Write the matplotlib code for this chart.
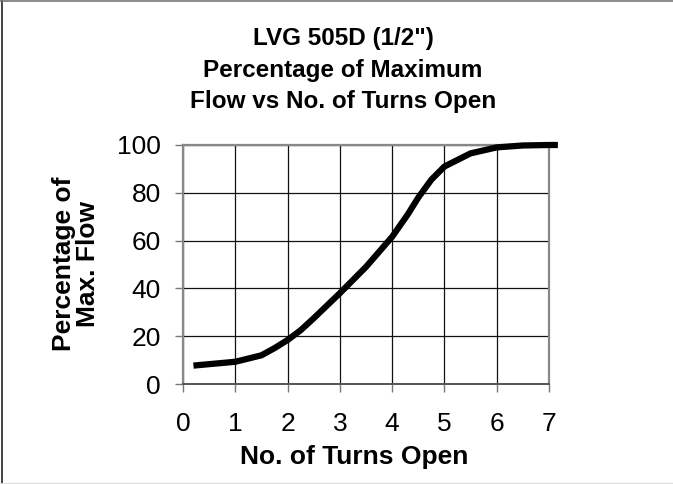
import matplotlib
matplotlib.use("Agg")
from matplotlib import pyplot as plt
from matplotlib.lines import Line2D

# values
turns = [0.2, 0.5, 1.0, 1.5, 1.75, 2.0, 2.25, 2.5, 3.0, 3.5, 4.0, 4.3, 4.5, 4.75,
         5.0, 5.5, 6.0, 6.5, 7.0, 7.17]
flow = [7.7, 8.3, 9.3, 12.0, 15.0, 18.4, 22.5, 27.5, 38.0, 49.0, 61.6, 71.0, 78.0, 85.5,
        91.0, 96.5, 99.0, 99.8, 100.0, 100.0]

x_ticks = [0, 1, 2, 3, 4, 5, 6, 7]
y_ticks = [0, 20, 40, 60, 80, 100]

title_lines = ['LVG 505D (1/2")', "Percentage of Maximum", "Flow vs No. of Turns Open"]
x_label = "No. of Turns Open"
y_label = "Percentage of\nMax. Flow"

plt.rcParams["font.family"] = ["Liberation Sans", "DejaVu Sans"]

W, H = 673, 484
fig = plt.figure(figsize=(W / 100, H / 100), dpi=100)
ax = fig.add_axes([183 / W, 1 - 384 / H, (549 - 183) / W, (384 - 145) / H])

ax.plot(turns, flow, color="black", lw=4.5, solid_capstyle="butt",
        solid_joinstyle="round", clip_on=False, zorder=5)

ax.set_xlim(0, 7)
ax.set_ylim(0, 100)
ax.set_xticks(x_ticks)
ax.set_yticks(y_ticks)
ax.grid(True, color="#111111", lw=0.9)
ax.set_axisbelow(True)

for side in ["left", "top", "right"]:
    ax.spines[side].set_color("#888888")
    ax.spines[side].set_linewidth(1.6)
ax.spines["bottom"].set_color("#555555")
ax.spines["bottom"].set_linewidth(1.4)

ax.tick_params(axis="both", direction="out", length=6, width=1, color="#777777",
               labelsize=19)
ax.tick_params(axis="x", pad=14)
ax.tick_params(axis="y", pad=10)

fig.text(354 / W, 1 - 457 / H, x_label, ha="center", va="center",
         fontsize=19, fontweight="bold")
fig.text(76 / W, 1 - 264 / H, y_label, ha="center", va="center", rotation=90,
         fontsize=19, fontweight="bold", linespacing=0.95)

fig.text(343 / W, 1 - 70 / H, "\n".join(title_lines), ha="center", va="center",
         fontsize=17.5, fontweight="bold", linespacing=1.45)

# outer frame of the picture
fig.add_artist(Line2D([0.003, 0.003], [0, 1], transform=fig.transFigure, color="#222222", lw=1.2))
fig.add_artist(Line2D([0, 1], [0.997, 0.997], transform=fig.transFigure, color="#777777", lw=1.2))
fig.add_artist(Line2D([0, 1], [0.002, 0.002], transform=fig.transFigure, color="#dddddd", lw=0.8))

fig.savefig("out.png", dpi=100)
